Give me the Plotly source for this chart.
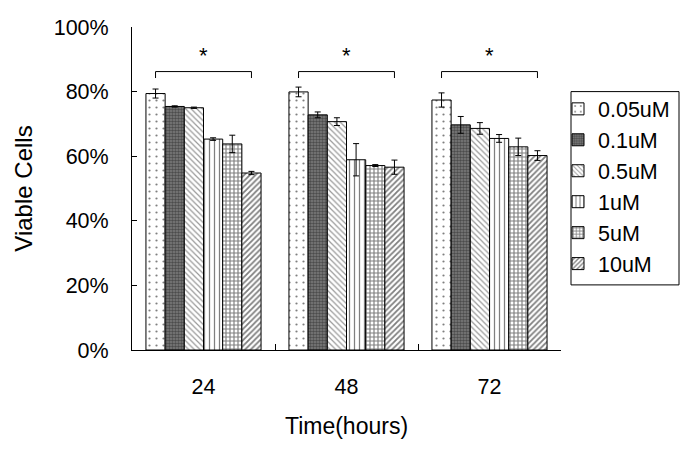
import plotly.graph_objects as go

times = ["24", "48", "72"]
doses = ["0.05uM", "0.1uM", "0.5uM", "1uM", "5uM", "10uM"]
viable = {
    "0.05uM": [0.794, 0.799, 0.774],
    "0.1uM": [0.754, 0.728, 0.697],
    "0.5uM": [0.750, 0.707, 0.686],
    "1uM": [0.653, 0.589, 0.655],
    "5uM": [0.638, 0.571, 0.629],
    "10uM": [0.548, 0.566, 0.602],
}
errors = {
    "0.05uM": [0.014, 0.015, 0.022],
    "0.1uM": [0.002, 0.009, 0.026],
    "0.5uM": [0.002, 0.012, 0.018],
    "1uM": [0.004, 0.050, 0.012],
    "5uM": [0.027, 0.003, 0.027],
    "10uM": [0.005, 0.022, 0.015],
}
significance = ["*", "*", "*"]
bracket_level = 0.862
y_ticks = [0, 0.2, 0.4, 0.6, 0.8, 1.0]

patterns = {
    "0.05uM": dict(shape=".", fgcolor="black", bgcolor="white", size=7, solidity=0.08),
    "0.1uM": dict(shape=".", fgcolor="#1a1a1a", bgcolor="#7e7e7e", size=3, solidity=0.55),
    "0.5uM": dict(shape="\\", fgcolor="#333333", bgcolor="white", size=4, solidity=0.3),
    "1uM": dict(shape="|", fgcolor="black", bgcolor="white", size=5, solidity=0.25),
    "5uM": dict(shape="+", fgcolor="black", bgcolor="white", size=4, solidity=0.5),
    "10uM": dict(shape="/", fgcolor="black", bgcolor="white", size=4, solidity=0.45),
}

FONT = "Liberation Sans, Arial, sans-serif"
bargap = 0.195

fig = go.Figure()
for i, d in enumerate(doses):
    fig.add_trace(go.Bar(
        name=d, x=times, y=viable[d],
        marker=dict(color="white", line=dict(color="black", width=1), pattern=patterns[d]),
        error_y=dict(type="data", array=errors[d], color="black", thickness=1, width=3),
        legendgroup=d,
    ))

# significance brackets spanning first to last bar of each group
n = len(doses)
w = (1 - bargap) / n
first = -(1 - bargap) / 2 + w / 2
last = (1 - bargap) / 2 - w / 2
for gi, t in enumerate(times):
    x0 = gi + first
    x1 = gi + last
    fig.add_shape(type="path", xref="x", yref="y",
                  path=f"M {x0},{bracket_level-0.02} L {x0},{bracket_level} L {x1},{bracket_level} L {x1},{bracket_level-0.02}",
                  line=dict(color="black", width=1))
    fig.add_annotation(x=gi, y=bracket_level, xref="x", yref="y", text=significance[gi],
                       showarrow=False, yanchor="bottom", yshift=2,
                       font=dict(family=FONT, size=22, color="black"))

# legend frame
fig.add_shape(type="rect", xref="paper", yref="paper",
              x0=(571 - 132) / 429, x1=(679 - 132) / 429,
              y0=(350 - 285) / 322.5, y1=(350 - 92) / 322.5,
              line=dict(color="black", width=1), fillcolor="rgba(0,0,0,0)", layer="above")

fig.update_layout(
    width=685, height=457,
    margin=dict(l=132, r=124, t=27, b=107, autoexpand=False),
    paper_bgcolor="white", plot_bgcolor="white",
    barmode="group", bargap=bargap, bargroupgap=0,
    font=dict(family=FONT, size=21.5, color="black"),
    showlegend=True,
    legend=dict(x=(558 - 132) / 429, y=0.81, xanchor="left", yanchor="top",
                borderwidth=0, bgcolor="rgba(0,0,0,0)",
                font=dict(family=FONT, size=21.5, color="black"),
                tracegroupgap=0),
)
fig.update_xaxes(type="category", showline=True, linecolor="black", linewidth=1,
                 ticks="inside", tickson="boundaries", ticklen=6, tickcolor="black",
                 ticklabelstandoff=17, showgrid=False,
                 title=dict(text="Time(hours)", standoff=20, font=dict(size=23)))
fig.update_yaxes(range=[0, 1], tickvals=y_ticks, tickformat=".0%",
                 showline=True, linecolor="black", linewidth=1,
                 ticks="inside", ticklen=5, tickcolor="black",
                 ticklabelstandoff=18, showgrid=False, zeroline=False,
                 title=dict(text="Viable Cells", standoff=14, font=dict(size=24)))

fig.write_html("out.html", config={"displayModeBar": False},
               post_script="document.body.style.margin='0';")
